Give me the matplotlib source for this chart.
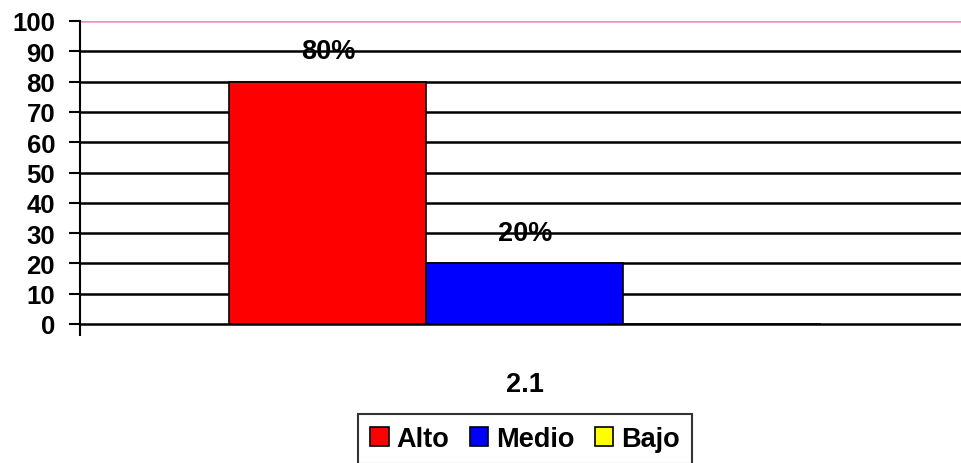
import numpy as np
import matplotlib.pyplot as plt

plt.rcParams['font.family'] = ['Liberation Sans', 'DejaVu Sans']
plt.rcParams['font.weight'] = 'bold'

category = ["2.1"]
series = ["Alto", "Medio", "Bajo"]
values = [80, 20, 0]
labels = ["80%", "20%", None]
colors = ["#ff0000", "#0000ff", "#ffff00"]

fig = plt.figure(figsize=(9.62, 4.64), dpi=100)
ax = fig.add_axes([80/962, 1 - 325/464, 882/962, 303/464])

w = 0.2234
x = np.arange(len(category))
handles = []
for i, (name, v, c, lab) in enumerate(zip(series, values, colors, labels)):
    xpos = x + (i - 1) * w
    b = ax.bar(xpos, [v], width=w, color=c, edgecolor="black", linewidth=1.2,
               label=name, zorder=3)
    handles.append(b)
    if lab:
        ax.text(xpos[0], v + 10, lab, ha="center", va="center",
                fontsize=19.5, fontweight="bold", zorder=4)

x0 = -0.5045
ax.set_xlim(x0, x0 + 1)
ax.set_ylim(0, 100)
ax.set_yticks(range(0, 101, 10))
ax.set_xticks(x)
ax.set_xticklabels(category)
ax.tick_params(axis="y", length=8, width=1.5, direction="out", labelsize=18.5, pad=10)
ax.tick_params(axis="x", length=0, labelsize=19.5, pad=34)

for yv in range(10, 100, 10):
    ax.axhline(yv, color="black", linewidth=1.8, zorder=1)
ax.axhline(100, color="#f090c0", linewidth=1.8, zorder=1)

for s in ["top", "right"]:
    ax.spines[s].set_visible(False)
ax.spines["left"].set_linewidth(1.5)
ax.spines["bottom"].set_linewidth(1.8)
ax.plot([x0, x0], [0, -3.5], color="black", linewidth=1.5, clip_on=False)

leg = fig.legend(handles=handles, loc="center", bbox_to_anchor=(525/962, 1 - 440/464),
                 ncol=3, frameon=True, fancybox=False, edgecolor="black",
                 fontsize=19.5, handlelength=0.67, handleheight=0.67,
                 handletextpad=0.3, columnspacing=0.75, borderpad=0.45)
leg.get_frame().set_linewidth(1.5)
for t in leg.get_texts():
    t.set_fontweight("bold")

fig.savefig("out.png", dpi=100)
